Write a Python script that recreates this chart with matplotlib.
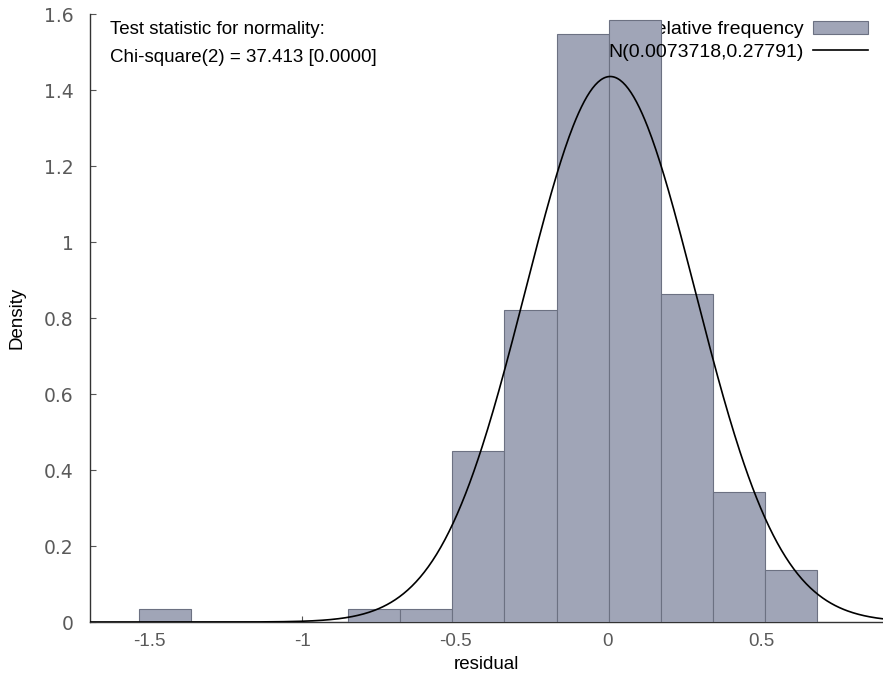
import numpy as np
import matplotlib
matplotlib.use("Agg")
import matplotlib.pyplot as plt

# -----------------------------
# Data
# -----------------------------
bin_start = -1.533
bin_width = 0.1706
densities = [0.035, 0.0, 0.0, 0.0, 0.035, 0.035, 0.45, 0.82, 1.547, 1.585, 0.862, 0.343, 0.137]
mu = 0.0073718
sigma = 0.27791
x_ticks = [-1.5, -1, -0.5, 0, 0.5]
x_ticklabels = ['-1.5', '-1', '-0.5', '0', '0.5']
y_ticks = [0, 0.2, 0.4, 0.6, 0.8, 1, 1.2, 1.4, 1.6]
y_ticklabels = ['0', '0.2', '0.4', '0.6', '0.8', '1', '1.2', '1.4', '1.6']

bin_lefts = [bin_start + i * bin_width for i in range(len(densities))]

plt.rcParams['font.family'] = ['Liberation Sans', 'DejaVu Sans']

fig = plt.figure(figsize=(8.83, 6.83), dpi=100)
ax = fig.add_axes([0.102, 0.0893, 0.898, 0.8902])

# histogram bars
bars = ax.bar(bin_lefts, densities, width=bin_width, align='edge',
              color='#a0a5b7', edgecolor='#6c7182', linewidth=0.8, zorder=3)

# normal density curve
xs = np.linspace(-1.75, 0.95, 600)
pdf = np.exp(-0.5 * ((xs - mu) / sigma) ** 2) / (sigma * np.sqrt(2 * np.pi))
curve, = ax.plot(xs, pdf, color='black', linewidth=1.2, zorder=4)

ax.set_xlim(-1.693, 0.899)
ax.set_ylim(0, 1.6)
ax.set_xticks(x_ticks)
ax.set_xticklabels(x_ticklabels, fontsize=13.5, color='#5a5a5a')
ax.set_yticks(y_ticks)
ax.set_yticklabels(y_ticklabels, family=['DejaVu Sans'], fontsize=13.5, color='#5a5a5a')

for s in ['top', 'right']:
    ax.spines[s].set_visible(False)
for s in ['left', 'bottom']:
    ax.spines[s].set_linewidth(1.0)
    ax.spines[s].set_color('#333333')
ax.tick_params(direction='in', length=4, width=0.8, color='#555555')
ax.tick_params(axis='x', pad=8)
ax.tick_params(axis='y', pad=12)

ax.set_xlabel('residual', fontsize=13.5, labelpad=4)
ax.set_ylabel('Density', fontsize=13.5, labelpad=13)

# test statistic annotation
ax.text(0.025, 0.974, 'Test statistic for normality:', transform=ax.transAxes,
        fontsize=13.5, va='center', ha='left')
ax.text(0.025, 0.928, 'Chi-square(2) = 37.413 [0.0000]', transform=ax.transAxes,
        fontsize=13.5, va='center', ha='left')

# key: first entry sits under the bars, second one over them
leg_kw = dict(loc='upper right', frameon=False, markerfirst=False, fontsize=14,
              handlelength=2.8, handleheight=0.6, handletextpad=0.5,
              borderpad=0, borderaxespad=0)
leg1 = ax.legend([bars], ['relative frequency'], bbox_to_anchor=(0.981, 0.988), **leg_kw)
leg1.set_zorder(1)
ax.add_artist(leg1)
leg2 = ax.legend([curve], ['N(%s,%s)' % (mu, sigma)], bbox_to_anchor=(0.981, 0.951), **leg_kw)
leg2.set_zorder(6)

fig.savefig('out.png', dpi=100)
